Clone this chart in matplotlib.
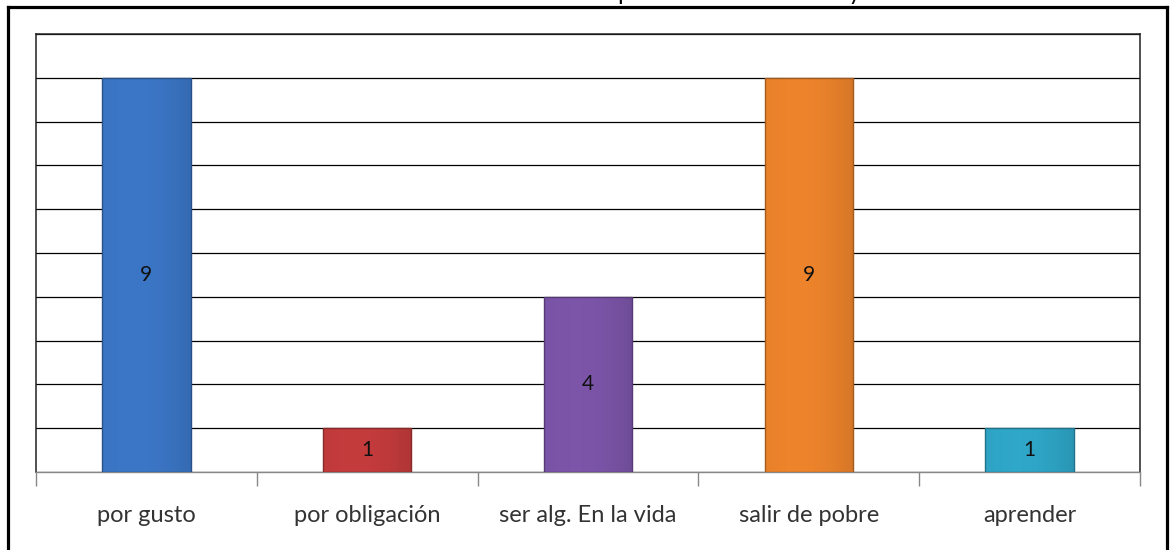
import numpy as np
import matplotlib
matplotlib.use("Agg")
import matplotlib.pyplot as plt
from matplotlib.lines import Line2D
from matplotlib.colors import to_rgb

# data
categories = ["por gusto", "por obligación", "ser alg. En la vida", "salir de pobre", "aprender"]
counts = [9, 1, 4, 9, 1]
bar_colors = ["#3A74C2", "#C03A3B", "#7953A5", "#E8812B", "#2EA3C4"]
title = "Motivo por el cual estudias hoy"

plt.rcParams["font.family"] = ["Lato", "DejaVu Sans"]

W, H = 1171, 550
fig = plt.figure(figsize=(W / 100, H / 100), dpi=100)

# clipped title (only descenders show, like the reference)
fig.text(699 / W, 1.0, title, ha="center", va="baseline", fontsize=17, color="black")

# outer frame: left, top, right
lw = 2.3
fig.add_artist(Line2D([8 / W, 8 / W], [0, 1 - 7 / H], color="black", lw=lw))
fig.add_artist(Line2D([8 / W, 1167 / W], [1 - 7 / H, 1 - 7 / H], color="black", lw=lw))
fig.add_artist(Line2D([1167 / W, 1167 / W], [0, 1 - 7 / H], color="black", lw=lw))

ax = fig.add_axes([36 / W, 1 - 472 / H, (1140 - 36) / W, (472 - 34) / H])
x = np.arange(len(categories))
bars = ax.bar(x, counts, width=0.4, color=bar_colors, zorder=3)

# soft bevel look: gentle horizontal gradient clipped to each bar
for b, c in zip(bars, bar_colors):
    rgb = np.array(to_rgb(c))
    t = np.linspace(0, 1, 64)
    shade = 1.0 + 0.06 * np.sin(np.pi * t) - 0.08 * t
    grad = np.clip(rgb[None, :] * shade[:, None], 0, 1)[None, :, :]
    bx, by = b.get_x(), b.get_y()
    im = ax.imshow(grad, extent=[bx, bx + b.get_width(), by, by + b.get_height()],
                   aspect="auto", zorder=3.5, interpolation="bicubic")
    im.set_clip_path(b)
    edge = np.clip(rgb * 0.7, 0, 1)
    ax.bar(b.get_x() + b.get_width() / 2, b.get_height(), width=b.get_width(),
           fill=False, edgecolor=edge, linewidth=1.0, zorder=4)

for xi, v in zip(x, counts):
    ax.text(xi, v / 2, str(v), ha="center", va="center", fontsize=15, color="#111111", zorder=5)

ax.set_xlim(-0.5, len(categories) - 0.5)
ax.set_ylim(0, 10)
ax.set_yticks(np.arange(0, 11, 1))
ax.yaxis.grid(True, color="black", linewidth=0.9, zorder=0)
ax.tick_params(axis="y", left=False, labelleft=False)

ax.set_xticks(np.arange(-0.5, len(categories), 1))
ax.set_xticklabels([])
ax.set_xticks(x, minor=True)
ax.set_xticklabels(categories, minor=True, fontsize=17, color="#333333")
ax.tick_params(axis="x", which="major", length=10, color="#888888", width=1)
ax.tick_params(axis="x", which="minor", length=0, pad=24)

for s in ["top", "left", "right"]:
    ax.spines[s].set_color("#222222")
    ax.spines[s].set_linewidth(1.1)
ax.spines["bottom"].set_color("#888888")
ax.spines["bottom"].set_linewidth(1.0)

fig.savefig("out.png", dpi=100)
